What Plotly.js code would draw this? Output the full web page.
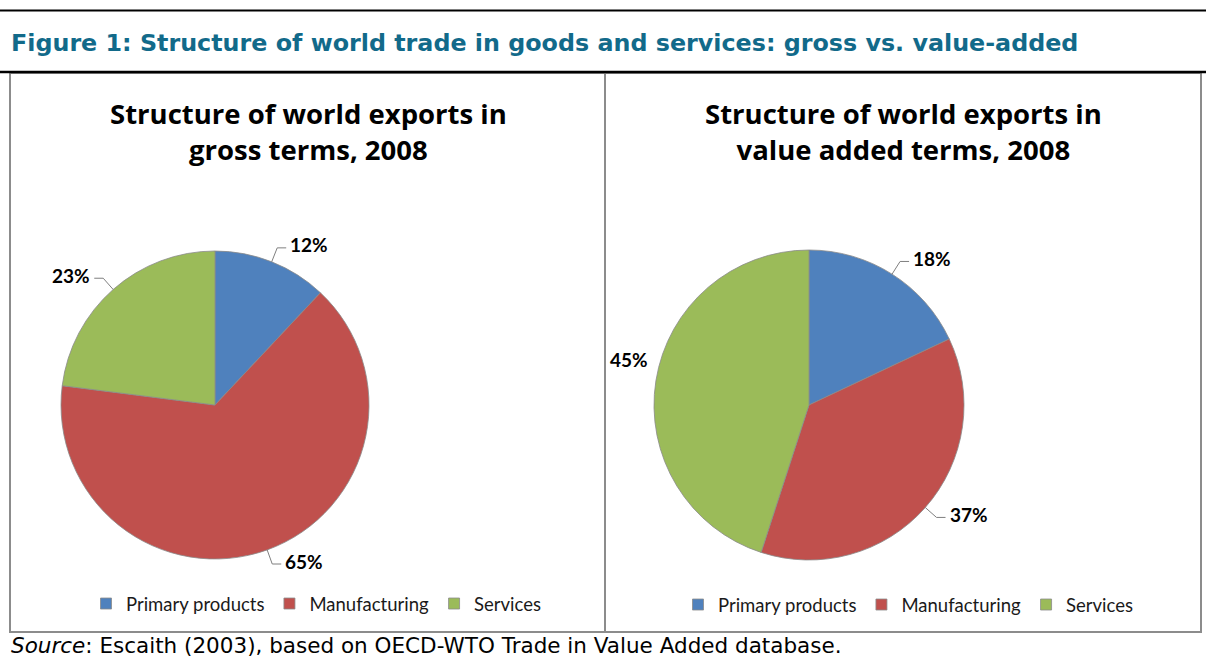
<!DOCTYPE html>
<html>
<head>
<meta charset="utf-8">
<script src="https://cdn.plot.ly/plotly-3.0.1.min.js"></script>
<style>
  html, body { margin: 0; padding: 0; background: #fff; }
  #chart { width: 1206px; height: 659px; }
</style>
</head>
<body>
<div id="chart"></div>
<script>
// ---- Data ----
const categories = ['Primary products', 'Manufacturing', 'Services'];
const grossShares = [12, 65, 23];
const valueAddedShares = [18, 37, 45];
const chartTitles = [
  'Structure of world exports in<br>gross terms, 2008',
  'Structure of world exports in<br>value added terms, 2008'
];
const figureTitle = 'Figure 1: Structure of world trade in goods and services: gross vs. value-added';
const sourceNote = '<i>Source</i>: Escaith (2003), based on OECD-WTO Trade in Value Added database.';

// ---- Styling / geometry ----
const W = 1206, H = 659;
const colors = ['#4f81bd', '#c0504d', '#9bbb59'];
const px = x => x / W;
const py = y => 1 - y / H;

const pies = [
  { values: grossShares, cx: 215, cy: 405, r: 154, legend: 'legend', titleX: 308,
    leader: [true, true, true], shift: [[0, 0], [0, 0], [0, 0]] },
  { values: valueAddedShares, cx: 809, cy: 405, r: 155, legend: 'legend2', titleX: 903,
    leader: [true, true, false], shift: [[0, 0], [0, 0], [9, -19]] }
];

const traces = [];
const shapes = [];
const annotations = [];

// frame lines
shapes.push({ type: 'rect', xref: 'paper', yref: 'paper', x0: px(10), x1: px(605), y0: py(632), y1: py(73),
  line: { color: '#8c8c8c', width: 2 }, fillcolor: 'rgba(0,0,0,0)' });
shapes.push({ type: 'rect', xref: 'paper', yref: 'paper', x0: px(605), x1: px(1201), y0: py(632), y1: py(73),
  line: { color: '#8c8c8c', width: 2 }, fillcolor: 'rgba(0,0,0,0)' });
shapes.push({ type: 'line', xref: 'paper', yref: 'paper', x0: 0, x1: 1, y0: py(10.5), y1: py(10.5),
  line: { color: '#000', width: 2 } });
shapes.push({ type: 'line', xref: 'paper', yref: 'paper', x0: 0, x1: 1, y0: py(72), y1: py(72),
  line: { color: '#000', width: 2.5 } });

annotations.push({ xref: 'paper', yref: 'paper', x: px(9), y: py(43), xanchor: 'left', yanchor: 'middle',
  showarrow: false, text: '<b>' + figureTitle + '</b>',
  font: { family: 'DejaVu Sans', size: 23.8, color: '#126a8a' } });
annotations.push({ xref: 'paper', yref: 'paper', x: px(9), y: py(645), xanchor: 'left', yanchor: 'middle',
  showarrow: false, text: sourceNote,
  font: { family: 'DejaVu Sans', size: 21.5, color: '#000' } });

pies.forEach((p, k) => {
  traces.push({
    type: 'pie',
    labels: categories,
    values: p.values,
    sort: false,
    direction: 'clockwise',
    rotation: 0,
    textinfo: 'none',
    hoverinfo: 'label+percent',
    marker: { colors: colors, line: { color: '#8a8a8a', width: 0.8 } },
    domain: { x: [px(p.cx - p.r), px(p.cx + p.r)], y: [py(p.cy + p.r), py(p.cy - p.r)] },
    showlegend: false
  });

  // legend entries for this panel (no data points, legend only)
  categories.forEach((c, i) => {
    traces.push({
      type: 'scatter', mode: 'markers', x: [null], y: [null], name: c,
      legend: p.legend, showlegend: true, hoverinfo: 'skip',
      marker: { symbol: 'square', size: 11, color: colors[i], line: { color: '#8a8a8a', width: 0.8 } }
    });
  });

  annotations.push({ xref: 'paper', yref: 'paper', x: px(p.titleX), y: py(131), xanchor: 'center', yanchor: 'middle',
    showarrow: false, text: '<b>' + chartTitles[k] + '</b>', align: 'center',
    font: { family: 'Open Sans', size: 27.5, color: '#000' } });

  const total = p.values.reduce((a, b) => a + b, 0);
  let cum = 0;
  p.values.forEach((v, i) => {
    const mid = (cum + v / 2) / total;
    cum += v;
    const th = 2 * Math.PI * mid;
    const dx = Math.sin(th), dy = -Math.cos(th);
    const side = dx >= 0 ? 1 : -1;
    const ex = p.cx + p.r * dx, ey = p.cy + p.r * dy;
    const bx = p.cx + (p.r + 15) * dx, by = p.cy + (p.r + 15) * dy;
    const hx = bx + side * 9;
    const pct = Math.round(v / total * 100) + '%';
    const lblFont = { family: 'Lato', size: 19, color: '#000' };
    if (p.leader[i]) {
      shapes.push({ type: 'path', xref: 'paper', yref: 'paper',
        path: `M ${px(ex)},${py(ey)} L ${px(bx)},${py(by)} L ${px(hx)},${py(by)}`,
        line: { color: '#7f7f7f', width: 1 } });
      annotations.push({ xref: 'paper', yref: 'paper', x: px(hx + side * 2), y: py(by - 3),
        xanchor: side > 0 ? 'left' : 'right', yanchor: 'middle', showarrow: false,
        text: '<b>' + pct + '</b>', font: lblFont });
    } else {
      annotations.push({ xref: 'paper', yref: 'paper', x: px(bx + p.shift[i][0]), y: py(by + p.shift[i][1]),
        xanchor: side > 0 ? 'left' : 'right', yanchor: 'middle', showarrow: false,
        text: '<b>' + pct + '</b>', font: lblFont });
    }
  });
});

const legendStyle = { orientation: 'h', xanchor: 'center', yanchor: 'middle', itemwidth: 30,
  font: { family: 'Lato', size: 18.5, color: '#1a1a1a' }, bgcolor: 'rgba(0,0,0,0)', itemclick: false };

const layout = {
  width: W, height: H,
  margin: { l: 0, r: 0, t: 0, b: 0 },
  paper_bgcolor: '#fff',
  plot_bgcolor: 'rgba(0,0,0,0)',
  xaxis: { visible: false, range: [0, 1] },
  yaxis: { visible: false, range: [0, 1] },
  shapes: shapes,
  annotations: annotations,
  legend: Object.assign({}, legendStyle, { x: px(316), y: py(604) }),
  legend2: Object.assign({}, legendStyle, { x: px(908), y: py(605) })
};

Plotly.newPlot('chart', traces, layout, { displayModeBar: false, staticPlot: true });
</script>
</body>
</html>
